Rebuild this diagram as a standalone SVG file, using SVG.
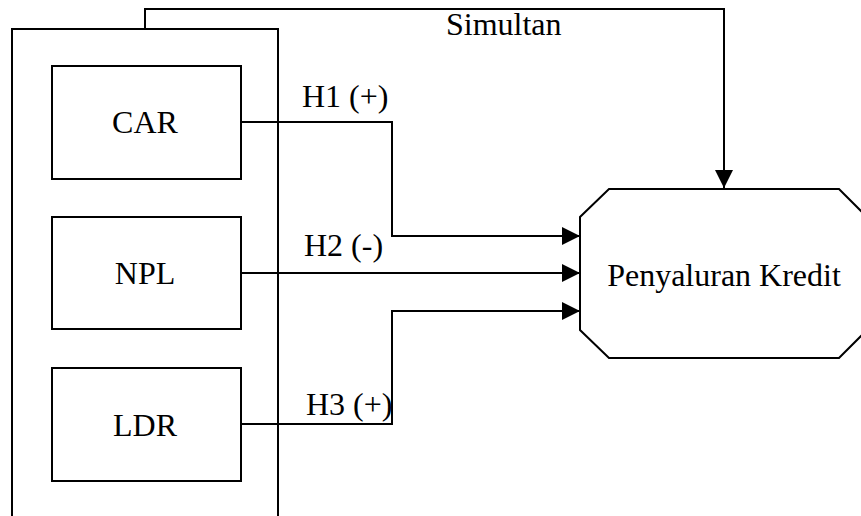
<svg xmlns="http://www.w3.org/2000/svg" width="861" height="516" viewBox="0 0 861 516">
<defs>
<style>
.box{fill:#fff;stroke:#000;stroke-width:2}
.ln{fill:none;stroke:#000;stroke-width:2}
.t{font-family:"Liberation Serif","Times New Roman",serif;font-size:32px;fill:#000}
</style>
<marker id="ah" markerUnits="userSpaceOnUse" markerWidth="18" markerHeight="18" viewBox="0 0 18 18" refX="18" refY="9" orient="auto">
<path d="M0,0 L18,9 L0,18 Z" fill="#000"/>
</marker>
</defs>
<rect width="861" height="516" fill="#fff"/>
<g id="group-box">
<rect class="box" x="12" y="29" width="266" height="500"/>
</g>
<g id="connectors">
<path class="ln" d="M145,29 V9 H724 V188" marker-end="url(#ah)"/>
<path class="ln" d="M241,122 H392 V236 H580" marker-end="url(#ah)"/>
<path class="ln" d="M241,273 H580" marker-end="url(#ah)"/>
<path class="ln" d="M241,424 H392 V311 H580" marker-end="url(#ah)"/>
<text class="t" x="446" y="35">Simultan</text>
<text class="t" x="302" y="107">H1 (+)</text>
<text class="t" x="304" y="256">H2 (-)</text>
<text class="t" x="306" y="415">H3 (+)</text>
</g>
<g id="car">
<rect class="box" x="52" y="66" width="189" height="113"/>
<text class="t" x="145" y="133" text-anchor="middle">CAR</text>
</g>
<g id="npl">
<rect class="box" x="52" y="217" width="189" height="112"/>
<text class="t" x="145" y="284" text-anchor="middle">NPL</text>
</g>
<g id="ldr">
<rect class="box" x="52" y="368" width="189" height="113"/>
<text class="t" x="145" y="436" text-anchor="middle">LDR</text>
</g>
<g id="penyaluran">
<polygon class="box" points="609,189 839,189 867,217 867,330 839,358 609,358 580,330 580,217"/>
<text class="t" x="724" y="286" text-anchor="middle">Penyaluran Kredit</text>
</g>
</svg>
